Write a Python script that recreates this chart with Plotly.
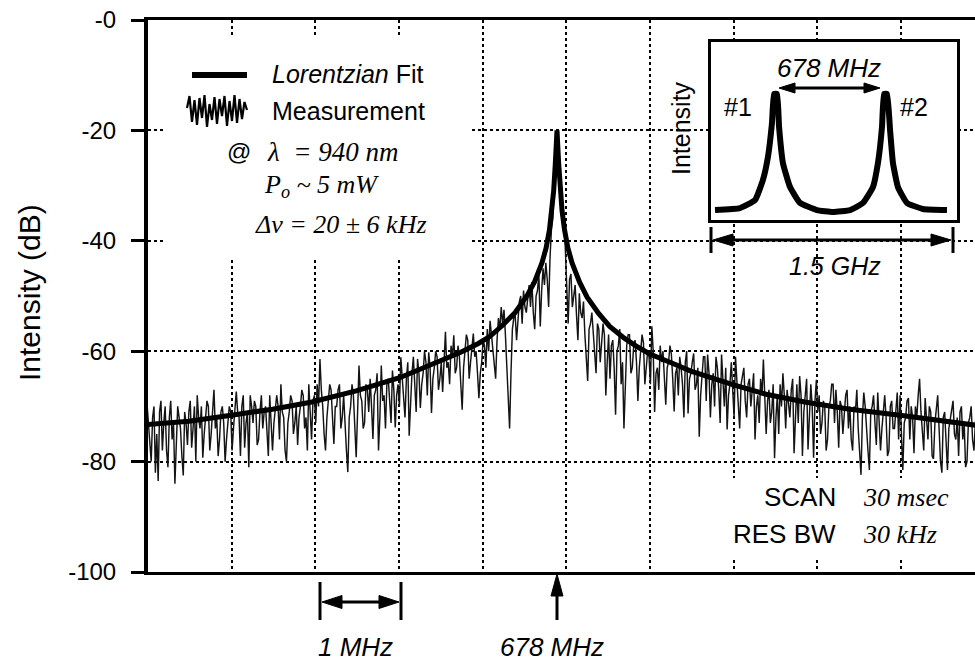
import plotly.graph_objects as go

# ---------------- data ----------------
CENTER_MHZ = 678.0
sweep_start_mhz = 673.1
sweep_step_mhz = 1.0 / 60.0

# measured trace (dB), one list per 1-MHz division of the sweep
meas_div0 = [-69.5, -73, -76, -80, -72, -70, -82, -75, -83.5, -71, -69, -78, -73, -70, -78, -81,
             -72, -69, -76, -73, -84, -77, -70, -72, -74, -79, -82.5, -71, -73, -77, -71, -69,
             -77.5, -74, -70, -80, -68, -72, -74, -70, -79.3, -75, -72, -69, -70, -78, -75, -71,
             -67, -74, -72, -79, -76, -71, -70, -73, -80, -76, -73, -70]
meas_div1 = [-71, -78, -74, -70, -67.3, -71, -72, -79, -70, -68, -77.5, -73, -71, -81, -68, -70,
             -73, -69, -70, -77, -76, -71, -68, -74, -71, -70, -74, -79, -68, -72, -78, -73,
             -71, -68, -70, -76, -66, -71, -72, -78, -80, -73, -71, -68, -69, -75, -73, -70,
             -77, -72, -70, -67, -68, -74, -72, -78, -66, -70, -76, -69]
meas_div2 = [-68, -73, -66, -70, -61.4, -67, -70, -75, -78, -72, -69, -66, -67, -73, -76.8, -70,
             -70, -67, -66, -74, -72, -68, -74, -78, -81.9, -72, -70, -66, -68, -75, -79.2, -71,
             -62.6, -68, -69, -74, -73, -66, -67, -71, -65, -70, -75.9, -68, -67, -64, -78, -72,
             -62.6, -69, -68, -74, -66, -65, -70, -73, -63.5, -67, -73.8, -68]
meas_div3 = [-66, -70, -61.1, -65, -68, -72, -65, -62, -75.3, -68, -64, -61, -66, -71, -61.4, -64,
             -70.3, -66, -64, -60, -62, -68, -60.2, -63, -71.2, -65, -63, -60, -61, -67, -65, -62,
             -67.4, -60, -56.5, -63, -62, -66, -59, -61, -57.1, -64, -63, -59, -61, -66, -70.6, -63,
             -60, -57, -58, -65, -62, -59, -56.8, -61, -60, -64, -68.5, -64]
meas_div4 = [-62, -58, -59, -63, -56, -60, -54.5, -57, -60, -63, -65, -58, -54, -56, -52, -55,
             -52.5, -57, -62, -68, -74, -64, -56, -54, -53.5, -58, -54, -51, -50, -55, -49, -52,
             -53, -50, -48, -52, -47.5, -53, -56, -50, -49, -46, -55.5, -49, -45, -48, -44, -47,
             -52, -43, -38, -36, -31, -26, -20, -22, -27, -32, -37, -35]
meas_div5 = [-43, -48, -55, -47, -46, -52, -50, -48, -53.5, -58, -49.5, -53, -54, -51, -57, -61,
             -65.4, -56, -55, -53, -57, -60, -64, -55, -56, -62, -58, -55, -57, -68, -62, -57,
             -65, -59, -58, -63, -71.5, -60, -59, -56, -66, -62, -74, -64, -59, -57, -57, -64,
             -63, -59, -58, -62, -69, -63, -60, -57, -58.5, -66, -63, -60]
meas_div6 = [-61, -66, -55.5, -60, -71, -64, -63, -67, -59, -62, -60, -66, -69.7, -63, -62, -59,
             -60.5, -65, -70.9, -64, -63, -68, -61, -63, -66, -72, -62, -60, -71.3, -65, -64, -62,
             -60.4, -67, -66, -63, -75.5, -68, -65, -61, -61, -69, -60.6, -64, -72, -66, -64, -70,
             -61, -63, -67, -73, -60.6, -65, -70, -63, -74.2, -68, -66, -62]
meas_div7 = [-67, -72, -61, -65, -70, -74, -66, -64, -63, -69, -72, -66, -65, -70, -67, -64,
             -76, -70, -68, -73, -65, -68, -61.5, -67, -75, -69, -67, -73, -71, -66, -79.4, -72,
             -68, -75, -66, -70, -64, -68, -74, -67, -69, -72, -67, -65, -78.5, -71, -66, -73,
             -64.5, -68, -79, -71, -68, -65, -77.8, -72, -66, -70, -79.3, -69]
meas_div8 = [-65.2, -71, -68, -75, -73, -69, -70, -78, -76, -70, -69, -66, -66, -73, -67, -71,
             -77.5, -69, -70, -75, -72, -68, -67, -74, -70, -76, -78, -70, -71, -67, -74, -79,
             -82.4, -72, -67.5, -70, -75, -78, -81.5, -71, -70, -68, -73, -77, -67.5, -72, -78, -74,
             -70, -68, -72, -79, -78, -70, -69, -74, -74, -70, -67.5, -76]
meas_div9 = [-68, -75, -81.5, -73, -72, -69, -68.5, -76, -70, -72, -78.5, -70, -72, -68, -65, -71,
             -74, -78, -68.5, -72, -76, -70, -71, -79, -79.5, -73, -70, -68, -74, -80, -82, -72,
             -71, -77, -81.5, -74, -72, -70, -69, -75, -76, -72, -79, -71, -70, -76, -73, -81,
             -80, -73, -72, -70, -76, -78, -73, -71]

# Lorentzian fit curve (offset from 678 MHz, dB)
fit_offset_mhz = [-4.90, -4.40, -3.85, -3.40, -2.93, -2.40, -1.88, -1.60, -1.40, -1.15, -0.94,
                  -0.80, -0.65, -0.50, -0.36, -0.27, -0.18, -0.13, -0.09, -0.06, -0.04, -0.02,
                  0.0, 0.02, 0.04, 0.06, 0.09, 0.13, 0.18, 0.27, 0.36, 0.50, 0.63, 0.80, 0.96,
                  1.11, 1.35, 1.60, 2.09, 2.50, 2.96, 3.50, 4.10, 4.60, 5.00]
fit_db = [-73.3, -72.7, -71.5, -70.5, -69.2, -67.2, -64.8, -63.0, -61.7, -60.2, -58.6,
          -57.3, -55.3, -53.0, -50.0, -47.5, -44.0, -41.3, -38.0, -34.5, -31.0, -26.0,
          -20.0, -26.0, -31.0, -34.5, -38.0, -41.3, -44.0, -47.5, -50.2, -53.2, -55.5, -57.6, -59.2,
          -60.5, -62.0, -63.6, -66.0, -67.8, -69.2, -70.5, -71.6, -72.6, -73.4]

# inset: two beat notes across a 1.5 GHz span
inset_mhz = [25, 180, 273, 322, 353, 378, 391, 409, 422, 446, 490, 552, 657, 756, 862, 942,
             1004, 1035, 1060, 1073, 1091, 1110, 1128, 1159, 1215, 1314, 1463]
inset_intensity = [0.056, 0.067, 0.112, 0.225, 0.354, 0.545, 0.708, 0.708, 0.522, 0.320, 0.185,
                   0.096, 0.056, 0.045, 0.056, 0.096, 0.185, 0.320, 0.522, 0.708, 0.708, 0.506,
                   0.320, 0.185, 0.096, 0.062, 0.056]

ytick_vals = [0, -20, -40, -60, -80, -100]
ytick_text = ["-0", "-20", "-40", "-60", "-80", "-100"]

# ---------------- geometry helpers ----------------
W, H = 975, 665
PL, PR, PT, PB = 148, 975, 20, 572
PX_PER_MHZ = 83.67
PEAK_PX = 557
X_LEFT = CENTER_MHZ + (PL - PEAK_PX) / PX_PER_MHZ
X_RIGHT = CENTER_MHZ + (PR - PEAK_PX) / PX_PER_MHZ

SANS = "Liberation Sans, Arial, Helvetica, sans-serif"
SERIF = "Liberation Serif, Times New Roman, serif"


def pxx(px):
    return (px - PL) / (PR - PL)


def pxy(py):
    return (PB - py) / (PB - PT)


def mhz(px):
    return CENTER_MHZ + (px - PEAK_PX) / PX_PER_MHZ


def dbv(py):
    return -(py - PT) * 100.0 / (PB - PT)


meas_db = (meas_div0 + meas_div1 + meas_div2 + meas_div3 + meas_div4 +
           meas_div5 + meas_div6 + meas_div7 + meas_div8 + meas_div9)
meas_mhz = [sweep_start_mhz + i * sweep_step_mhz for i in range(len(meas_db))]
fit_mhz = [CENTER_MHZ + o for o in fit_offset_mhz]

fig = go.Figure()
fig.add_trace(go.Scatter(x=meas_mhz, y=meas_db, mode="lines",
                         line=dict(color="#141414", width=1.45), name="Measurement"))
fig.add_trace(go.Scatter(x=fit_mhz, y=fit_db, mode="lines",
                         line=dict(color="black", width=5), name="Lorentzian Fit"))
fig.add_trace(go.Scatter(x=inset_mhz, y=inset_intensity, mode="lines", xaxis="x2", yaxis="y2",
                         line=dict(color="black", width=6, shape="spline", smoothing=0.4)))

shapes = []


def line(x0, y0, x1, y1, w=3):
    shapes.append(dict(type="line", xref="paper", yref="paper",
                       x0=pxx(x0), y0=pxy(y0), x1=pxx(x1), y1=pxy(y1),
                       line=dict(color="black", width=w)))


def tri(tx, ty, dx, dy, length, half):
    bx, by = tx - dx * length, ty - dy * length
    px_, py_ = -dy, dx
    pts = [(tx, ty), (bx + px_ * half, by + py_ * half), (bx - px_ * half, by - py_ * half)]
    path = "M " + " L ".join(f"{pxx(a):.5f},{pxy(b):.5f}" for a, b in pts) + " Z"
    shapes.append(dict(type="path", xref="paper", yref="paper", path=path,
                       fillcolor="black", line=dict(color="black", width=1)))


def mask(x0, y0, x1, y1):
    shapes.append(dict(type="rect", xref="x", yref="y", layer="between",
                       x0=mhz(x0), x1=mhz(x1), y0=dbv(y1), y1=dbv(y0),
                       fillcolor="white", line=dict(width=0)))


# white areas that hide the grid behind the key, inset and settings text
mask(163, 36, 472, 258)
mask(711, 42, 957, 220)
mask(725, 478, 975, 558)

# key: fit line sample
line(192, 75, 247, 75, w=6)
# key: measurement glyph
glyph_y = [108, 96, 122, 100, 125, 98, 118, 95, 127, 104, 120, 97, 124, 99, 116, 96, 126, 101,
           121, 95, 123, 99, 119, 102, 110]
gpath = "M " + " L ".join(f"{pxx(187 + 2.5 * i):.5f},{pxy(v):.5f}" for i, v in enumerate(glyph_y))
shapes.append(dict(type="path", xref="paper", yref="paper", path=gpath,
                   line=dict(color="black", width=2.2)))

# 1.5 GHz span arrow
line(711, 227, 711, 253)
line(953, 227, 953, 253)
line(725, 240, 940, 240)
tri(713, 240, -1, 0, 20, 6)
tri(951, 240, 1, 0, 20, 6)
# inset 678 MHz arrow
line(790, 88, 868, 88)
tri(779, 88, -1, 0, 16, 5)
tri(880, 88, 1, 0, 16, 5)
# 1 MHz bracket
line(320, 582, 320, 620)
line(401, 582, 401, 620)
line(335, 602, 386, 602)
tri(322, 602, -1, 0, 20, 6.5)
tri(399, 602, 1, 0, 20, 6.5)
# 678 MHz marker
line(557, 620, 557, 590)
tri(557, 574, 0, -1, 22, 6)

anns = []


def ann(text, px, py, size, xanchor="center", family=SANS, angle=0):
    anns.append(dict(text=text, x=pxx(px), y=pxy(py), xref="paper", yref="paper",
                     xanchor=xanchor, yanchor="middle", showarrow=False, textangle=angle,
                     font=dict(family=family, size=size, color="black")))


ann("Intensity (dB)", 29, 293, 30, angle=-90)
ann("<i>Lorentzian</i> Fit", 270, 74, 25, xanchor="left")
ann("Measurement", 270, 111, 25, xanchor="left")
ann("@", 225, 152, 24, xanchor="left")
ann("<i>λ&nbsp; = 940 nm</i>", 265, 152, 27, xanchor="left", family=SERIF)
ann("<i>P<sub>o</sub> ~ 5 mW</i>", 262, 186, 26, xanchor="left", family=SERIF)
ann("<i>Δν = 20 ± 6 kHz</i>", 253, 224, 26, xanchor="left", family=SERIF)
ann("SCAN", 838, 497, 26, xanchor="right")
ann("<i>30 msec</i>", 861, 497, 26, xanchor="left", family=SERIF)
ann("RES BW", 838, 534, 26, xanchor="right")
ann("<i>30 kHz</i>", 861, 534, 26, xanchor="left", family=SERIF)
ann("<i>1 MHz</i>", 355, 647, 26)
ann("<i>678 MHz</i>", 552, 647, 26)
ann("<i>678 MHz</i>", 829, 68, 26)
ann("#1", 738, 107, 25)
ann("#2", 914, 107, 25)
ann("Intensity", 681, 128, 25, angle=-90)
ann("<i>1.5 GHz</i>", 835, 266, 25)

fig.update_layout(
    width=W, height=H,
    margin=dict(l=PL, r=W - PR, t=PT, b=H - PB),
    plot_bgcolor="white", paper_bgcolor="white",
    showlegend=False,
    font=dict(family=SANS, color="black"),
    shapes=shapes, annotations=anns,
    xaxis=dict(range=[X_LEFT, X_RIGHT], showgrid=True, gridcolor="black", griddash="dot",
               gridwidth=1.5, tick0=X_LEFT, dtick=1, showticklabels=False, ticks="",
               showline=True, linewidth=3, linecolor="black", mirror=True, zeroline=False),
    yaxis=dict(range=[-100, 0], tickmode="array", tickvals=ytick_vals, ticktext=ytick_text,
               ticks="outside", ticklen=13, tickwidth=3, tickcolor="black",
               tickfont=dict(size=24, family=SANS, color="black"), ticklabelstandoff=10,
               showgrid=True, gridcolor="black", griddash="dot", gridwidth=1.5,
               showline=True, linewidth=4, linecolor="black", zeroline=False),
    xaxis2=dict(domain=[pxx(711), pxx(957)], anchor="y2", range=[0, 1525], showgrid=False,
                showticklabels=False, ticks="", showline=True, mirror=True, linewidth=3,
                linecolor="black", zeroline=False),
    yaxis2=dict(domain=[pxy(220), pxy(42)], anchor="x2", range=[0, 1], showgrid=False,
                showticklabels=False, ticks="", showline=True, mirror=True, linewidth=3,
                linecolor="black", zeroline=False),
)

fig.write_html("out.html")
